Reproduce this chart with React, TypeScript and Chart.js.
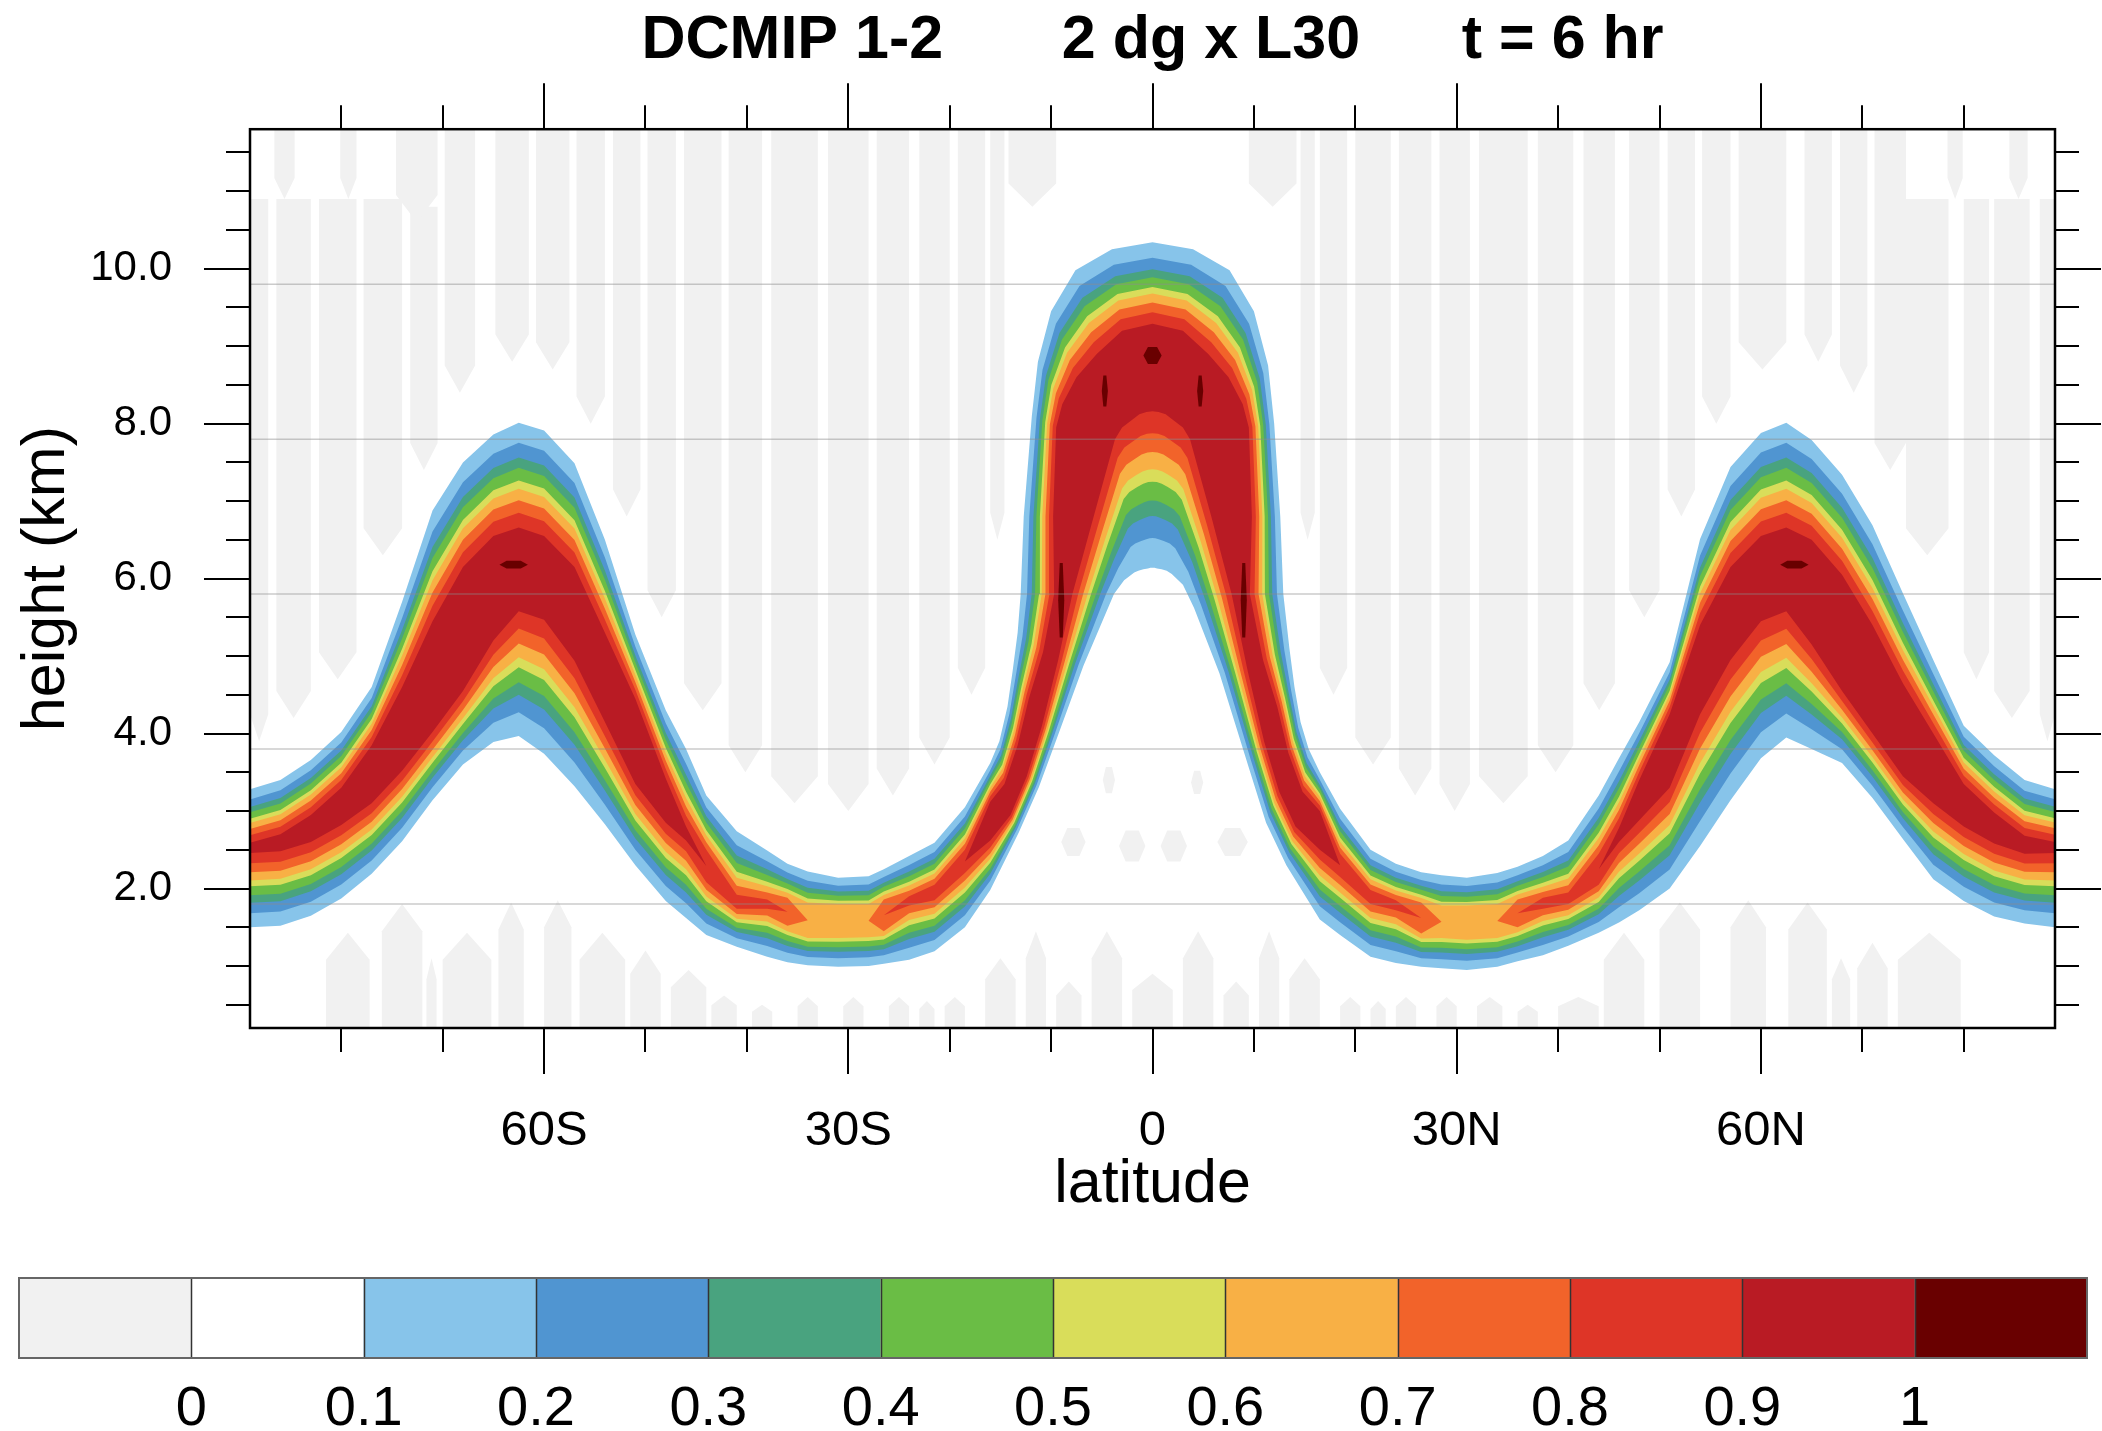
import React, { useEffect, useRef } from 'react';
import { Chart, registerables } from 'chart.js';

Chart.register(...registerables);

const FONT = "'Liberation Sans', Arial, Helvetica, sans-serif";

// ---------------- axes ----------------
const latRange = [-89, 89];
const heightRange = [0.2, 11.8];
const latMajorTicks = [-60, -30, 0, 30, 60];
const latTickLabels = ['60S', '30S', '0', '30N', '60N'];
const latMinorTicks = [-80, -70, -50, -40, -20, -10, 10, 20, 40, 50, 70, 80];
const heightMajorTicks = [2, 4, 6, 8, 10];
const heightTickLabels = ['2.0', '4.0', '6.0', '8.0', '10.0'];
const heightMinorTicks = [0.5, 1, 1.5, 2.5, 3, 3.5, 4.5, 5, 5.5, 6.5, 7, 7.5, 8.5, 9, 9.5, 10.5, 11, 11.5];
const titleText = 'DCMIP 1-2       2 dg x L30      t = 6 hr';
const xTitle = 'latitude';
const yTitle = 'height (km)';

// ---------------- colour scale ----------------
const contourLevels = [0.1, 0.2, 0.3, 0.4, 0.5, 0.6, 0.7, 0.8, 0.9];
const levelColors = ['#87C4EA', '#5095D1', '#49A37F', '#6ABD45', '#D9DD5A', '#F8B045', '#F2632A', '#DE3527', '#B91B24'];
const overshootColor = '#690000';
const negativeColor = '#F1F1F1';
const colorbarColors = [negativeColor, '#FFFFFF', ...levelColors, overshootColor];
const colorbarLabels = ['0', '0.1', '0.2', '0.3', '0.4', '0.5', '0.6', '0.7', '0.8', '0.9', '1'];
// relative position of each contour between the 0.1 edge and the innermost contour (read at 60S)
const levelSpacing = [0, 0.19, 0.33, 0.43, 0.55, 0.63, 0.74, 0.86, 1.0];

// ---------------- tracer band cross-sections (south -> north) ----------------
// O = outer 0.1 contour, Co/Ci = upper/lower edge of the innermost contour, I = inner 0.1 contour
const secOLat = [-89, -86, -83, -80, -77, -74, -71, -68, -65, -62.5, -60, -57, -54, -51, -48, -46, -44, -41, -38, -36, -34, -31, -28, -26.5, -24, -21.5, -18.5, -16,
  -15.1, -14.3, -13.8, -13.3, -13.0, -12.7, -11.9, -11.3, -10.0, -7.6, -4.0, 0,
  4.0, 7.6, 10.0, 11.4, 12.0, 12.6, 12.9, 13.5, 14.0, 14.6, 15.4,
  16.5, 18.5, 21.5, 24, 26.5, 28.5, 31, 34, 36, 38.5, 41, 44, 46, 48, 51, 54, 57, 60, 62.5, 65, 68, 71, 74, 77, 80, 83, 86, 89];
const secOZ = [3.28, 3.40, 3.66, 4.02, 4.60, 5.70, 6.88, 7.50, 7.86, 8.01, 7.91, 7.49, 6.50, 5.28, 4.30, 3.80, 3.20, 2.74, 2.49, 2.32, 2.22, 2.14, 2.16, 2.25, 2.42, 2.59, 3.05, 3.62,
  3.90, 4.35, 4.80, 5.30, 5.80, 6.80, 8.10, 8.80, 9.45, 9.98, 10.25, 10.34,
  10.25, 9.98, 9.45, 8.75, 8.00, 6.80, 5.80, 5.10, 4.60, 4.15, 3.80,
  3.50, 3.03, 2.50, 2.32, 2.21, 2.17, 2.14, 2.20, 2.28, 2.42, 2.62, 3.20, 3.68, 4.15, 4.92, 6.51, 7.44, 7.88, 8.01, 7.79, 7.34, 6.69, 5.81, 4.95, 4.10, 3.72, 3.40, 3.28];
const secCoLat = [-89, -86, -83, -80, -77, -74, -71, -68, -65, -62.5, -60, -57, -54, -51, -48, -46, -44, -41, -38, -36, -34, -31, -28, -26.5, -24, -21.5, -18.5, -16,
  -14.6, -13.3, -12.2, -10.8, -9.7, -9.8, -9.5, -8.9, -7.5, -5.5, -3.0, 0,
  3.0, 5.5, 7.5, 8.9, 9.5, 9.8, 9.6, 10.9, 12.3, 13.4, 14.8,
  16.5, 18.5, 21.5, 24, 26.5, 28.5, 31, 34, 36, 38.5, 41, 44, 46, 48, 51, 54, 57, 60, 62.5, 65, 68, 71, 74, 77, 80, 83, 86, 89];
const secCoZ = [2.59, 2.70, 2.95, 3.30, 3.85, 4.60, 5.45, 6.15, 6.55, 6.66, 6.55, 6.15, 5.30, 4.45, 3.42, 2.80, 2.50, 1.92, 1.86, 1.88, 1.82, 1.80, 1.80, 1.86, 1.90, 2.05, 2.50, 3.12,
  3.35, 3.85, 4.45, 5.05, 5.80, 6.80, 7.95, 8.25, 8.60, 8.90, 9.20, 9.29,
  9.20, 8.90, 8.60, 8.25, 7.95, 6.80, 5.80, 4.95, 4.35, 3.75, 3.25,
  3.00, 2.45, 1.98, 1.85, 1.82, 1.78, 1.78, 1.80, 1.86, 1.88, 1.95, 2.45, 2.78, 3.40, 4.25, 5.40, 6.15, 6.55, 6.66, 6.50, 6.05, 5.40, 4.65, 4.00, 3.35, 2.98, 2.68, 2.60];
const secCiLat = [-89, -86, -83, -80, -77, -74, -71, -68, -65, -62.5, -60, -57, -54, -51, -48, -46, -44, -41, -38, -36, -34, -31, -28, -26.5, -24, -21.5, -18.5, -16,
  -14.0, -12.4, -10.9, -9.3, -7.9, -5.8, -3.7, -3.0, -2.0, -1.3, -0.6, 0,
  0.6, 1.3, 2.0, 3.0, 3.7, 5.8, 7.8, 9.4, 11.0, 12.5, 14.1,
  16.5, 18.5, 21.5, 24, 26.5, 28.5, 31, 34, 36, 38.5, 41, 44, 46, 48, 51, 54, 57, 60, 62.5, 65, 68, 71, 74, 77, 80, 83, 86, 89];
const secCiZ = [2.46, 2.48, 2.60, 2.82, 3.10, 3.52, 4.02, 4.55, 5.20, 5.58, 5.47, 4.94, 4.15, 3.35, 2.85, 2.62, 2.08, 1.74, 1.74, 1.52, 1.36, 1.36, 1.37, 1.45, 1.78, 1.85, 2.20, 2.62,
  2.95, 3.45, 4.10, 4.95, 5.80, 6.80, 7.80, 7.95, 8.05, 8.12, 8.15, 8.16,
  8.15, 8.12, 8.05, 7.95, 7.80, 6.80, 5.80, 4.80, 3.90, 3.25, 2.80,
  2.50, 2.15, 1.80, 1.72, 1.42, 1.36, 1.34, 1.36, 1.50, 1.74, 1.80, 2.05, 2.60, 2.88, 3.30, 4.25, 4.95, 5.45, 5.58, 5.15, 4.55, 4.00, 3.45, 3.10, 2.80, 2.58, 2.45, 2.46];
const secILat = [-89, -86, -83, -80, -77, -74, -71, -68, -65, -62.5, -60, -57, -54, -51, -48, -46, -44, -41, -38, -36, -34, -31, -28, -26.5, -24, -21.5, -18.5, -16,
  -13.2, -11.2, -9.4, -6.8, -3.8, -2.8, -1.8, -1.4, -0.9, -0.45, -0.2, 0,
  0.2, 0.45, 0.9, 1.4, 1.9, 3.0, 4.1, 6.6, 9.4, 11.2, 13.2,
  16.5, 18.5, 21.5, 24, 26.5, 28.5, 31, 34, 36, 38.5, 41, 44, 46, 48, 51, 54, 57, 60, 62.5, 65, 68, 71, 74, 77, 80, 83, 86, 89];
const secIZ = [1.50, 1.52, 1.65, 1.87, 2.19, 2.61, 3.14, 3.60, 3.89, 3.97, 3.74, 3.32, 2.83, 2.30, 1.84, 1.62, 1.40, 1.25, 1.12, 1.05, 1.01, 0.99, 1.00, 1.03, 1.08, 1.19, 1.50, 1.98,
  2.72, 3.31, 3.95, 4.88, 5.80, 5.98, 6.08, 6.10, 6.12, 6.13, 6.14, 6.14,
  6.14, 6.13, 6.12, 6.10, 6.06, 5.92, 5.62, 4.78, 3.60, 2.85, 2.30,
  1.60, 1.40, 1.12, 1.04, 0.99, 0.97, 0.95, 0.99, 1.06, 1.14, 1.26, 1.43, 1.56, 1.72, 2.00, 2.55, 3.14, 3.68, 3.95, 3.80, 3.62, 3.17, 2.64, 2.12, 1.84, 1.64, 1.55, 1.50];
const secCoreLevel = [0.9, 0.9, 0.9, 0.9, 0.9, 0.9, 0.9, 0.9, 0.9, 0.9, 0.9, 0.9, 0.9, 0.9, 0.9, 0.9, 0.8, 0.8, 0.8, 0.7, 0.6, 0.6, 0.6, 0.7, 0.8, 0.8, 0.8, 0.9,
  0.9, 0.9, 0.9, 0.9, 0.9, 0.9, 0.9, 0.9, 0.9, 0.9, 0.9, 0.9,
  0.9, 0.9, 0.9, 0.9, 0.9, 0.9, 0.9, 0.9, 0.9, 0.9, 0.9,
  0.9, 0.8, 0.8, 0.8, 0.7, 0.6, 0.6, 0.6, 0.7, 0.8, 0.8, 0.8, 0.9, 0.9, 0.9, 0.9, 0.9, 0.9, 0.9, 0.9, 0.9, 0.9, 0.9, 0.9, 0.9, 0.9, 0.9, 0.9];

// small patches where the tracer exceeds 1 (lat, height, half-width in deg, half-height in km)
const overshootLat = [-63.0, 63.3, 0, -4.7, 4.7, -9.0, 9.0];
const overshootZ = [6.18, 6.18, 8.88, 8.42, 8.42, 5.72, 5.72];
const overshootHalfLat = [1.4, 1.4, 0.9, 0.3, 0.3, 0.3, 0.3];
const overshootHalfZ = [0.05, 0.05, 0.11, 0.2, 0.2, 0.48, 0.48];

// ---------------- negative (<0) background streaks ----------------
// streaks hanging from the top: [lat0, lat1, lowest height, top height]
const upperNegStrips = [
  [-89, -87.2, 3.9, 10.9], [-86.6, -84.6, 10.9, 11.8], [-86.4, -83.0, 4.2, 10.9], [-82.2, -78.5, 4.7, 10.9],
  [-80.1, -78.5, 10.9, 11.8], [-77.8, -74.0, 6.3, 10.9], [-74.6, -70.5, 10.6, 11.8], [-73.2, -70.5, 7.4, 10.8],
  [-69.8, -66.8, 8.4, 11.8], [-64.8, -61.5, 8.8, 11.8], [-60.8, -57.5, 8.7, 11.8], [-56.8, -54.0, 8.0, 11.8],
  [-53.2, -50.5, 6.8, 11.8], [-49.8, -47.0, 5.5, 11.8], [-46.2, -42.5, 4.3, 11.8], [-41.8, -38.5, 3.5, 11.8],
  [-37.6, -33.0, 3.1, 11.8], [-32.0, -28.0, 3.0, 11.8], [-27.2, -24.0, 3.2, 11.8], [-23.0, -20.0, 3.6, 11.8],
  [-19.2, -16.5, 4.5, 11.8], [-16.0, -14.6, 6.5, 11.8], [-14.2, -9.5, 10.8, 11.8],
  [9.5, 14.2, 10.8, 11.8], [14.6, 16.0, 6.5, 11.8], [16.5, 19.2, 4.5, 11.8], [20.0, 23.5, 3.6, 11.8],
  [24.3, 27.5, 3.2, 11.8], [28.3, 31.3, 3.0, 11.8], [32.2, 37.0, 3.1, 11.8], [38.0, 41.5, 3.5, 11.8],
  [42.5, 45.6, 4.3, 11.8], [47.0, 50.0, 5.5, 11.8], [50.8, 53.5, 6.8, 11.8], [54.2, 57.0, 8.0, 11.8],
  [57.8, 62.5, 8.7, 11.8], [64.3, 67.0, 8.8, 11.8], [67.8, 70.5, 8.4, 11.8], [71.2, 74.3, 7.4, 11.8],
  [74.3, 78.5, 6.3, 10.9], [78.4, 79.9, 10.9, 11.8], [80.0, 82.5, 4.7, 10.9], [83.0, 86.5, 4.2, 10.9],
  [84.5, 86.3, 10.9, 11.8], [87.5, 89, 3.9, 10.9],
];
// streaks rising from the ground: [lat0, lat1, bottom height, highest height]
const lowerNegStrips = [
  [-81.5, -77.2, 0.2, 1.43], [-76.0, -72.0, 0.2, 1.8], [-71.6, -70.6, 0.2, 1.1], [-70.0, -65.2, 0.2, 1.43],
  [-64.5, -62.0, 0.2, 1.82], [-60.0, -57.3, 0.2, 1.85], [-56.5, -52.0, 0.2, 1.43], [-51.5, -48.5, 0.2, 1.2],
  [-47.5, -44.0, 0.2, 0.95], [-43.5, -41.0, 0.2, 0.62], [-39.5, -37.5, 0.2, 0.5], [-35.0, -33.0, 0.2, 0.6],
  [-30.5, -28.5, 0.2, 0.6], [-26.0, -24.0, 0.2, 0.6], [-23.0, -21.5, 0.2, 0.55], [-20.5, -18.5, 0.2, 0.6],
  [-16.5, -13.5, 0.2, 1.1], [-12.5, -10.5, 0.2, 1.45], [-9.5, -7.0, 0.2, 0.8], [-6.0, -3.0, 0.2, 1.45],
  [-2.0, 2.0, 0.2, 0.9], [3.0, 6.0, 0.2, 1.45], [7.0, 9.5, 0.2, 0.8], [10.5, 12.5, 0.2, 1.45], [13.5, 16.5, 0.2, 1.1],
  [18.5, 20.5, 0.2, 0.6], [21.5, 23.0, 0.2, 0.55], [24.0, 26.0, 0.2, 0.6], [28.0, 30.0, 0.2, 0.6],
  [32.0, 34.5, 0.2, 0.6], [36.0, 38.0, 0.2, 0.5], [40.0, 44.0, 0.2, 0.6], [44.5, 48.5, 0.2, 1.43],
  [50.0, 54.0, 0.2, 1.82], [57.0, 60.5, 0.2, 1.85], [62.7, 66.5, 0.2, 1.82], [67.0, 68.8, 0.2, 1.1],
  [69.5, 72.5, 0.2, 1.3], [73.5, 79.7, 0.2, 1.43],
];
// isolated small negative cells under the equatorial dome: [lat, height, half-width, half-height]
const negCells = [
  [-7.8, 2.6, 1.2, 0.18], [-4.3, 3.4, 0.6, 0.17], [-2.0, 2.55, 1.3, 0.2],
  [2.1, 2.55, 1.3, 0.2], [4.4, 3.37, 0.6, 0.15], [7.9, 2.6, 1.5, 0.18],
];

// faint horizontal raster seams visible in the picture
const seamHeights = [1.8, 3.8, 5.8, 7.8, 9.8];

// ---------------- geometry helpers ----------------
const lerp = (a: number, b: number, f: number) => a + (b - a) * f;

function levelPolygon(k: number) {
  const top: { x: number; y: number }[] = [];
  const bottom: { x: number; y: number }[] = [];
  for (let i = 0; i < secOLat.length; i++) {
    const core = Math.round(secCoreLevel[i] * 10) - 1;
    if (k <= core) {
      const f = levelSpacing[k] / levelSpacing[core];
      top.push({ x: lerp(secOLat[i], secCoLat[i], f), y: lerp(secOZ[i], secCoZ[i], f) });
      bottom.push({ x: lerp(secILat[i], secCiLat[i], f), y: lerp(secIZ[i], secCiZ[i], f) });
    } else {
      const mx = (secCoLat[i] + secCiLat[i]) / 2;
      const my = (secCoZ[i] + secCiZ[i]) / 2;
      top.push({ x: mx, y: my });
      bottom.push({ x: mx, y: my });
    }
  }
  return top.concat(bottom.reverse());
}

// a streak with a tapered free end (down for hanging streaks, up for rising ones)
function streak(r: number[], hanging: boolean) {
  const [l0, l1, zLo, zHi] = r;
  const taper = Math.min(0.35, (zHi - zLo) * 0.3);
  const m = (l0 + l1) / 2;
  if (hanging) {
    return [{ x: l0, y: zHi }, { x: l1, y: zHi }, { x: l1, y: zLo + taper }, { x: m, y: zLo }, { x: l0, y: zLo + taper }];
  }
  return [{ x: l0, y: zLo }, { x: l1, y: zLo }, { x: l1, y: zHi - taper }, { x: m, y: zHi }, { x: l0, y: zHi - taper }];
}

function hexagon(lat: number, z: number, hl: number, hz: number) {
  return [
    { x: lat - hl, y: z }, { x: lat - hl / 2, y: z + hz }, { x: lat + hl / 2, y: z + hz },
    { x: lat + hl, y: z }, { x: lat + hl / 2, y: z - hz }, { x: lat - hl / 2, y: z - hz },
  ];
}

function shape(data: { x: number; y: number }[], color: string, order: number) {
  return {
    data,
    fill: 'shape',
    backgroundColor: color,
    borderColor: 'rgba(0,0,0,0)',
    borderWidth: 0,
    pointRadius: 0,
    pointHoverRadius: 0,
    tension: 0,
    order,
  };
}

function buildDatasets() {
  const ds: any[] = [];
  upperNegStrips.forEach((r) => ds.push(shape(streak(r, true), negativeColor, 300)));
  lowerNegStrips.forEach((r) => ds.push(shape(streak(r, false), negativeColor, 300)));
  negCells.forEach((c) => ds.push(shape(hexagon(c[0], c[1], c[2], c[3]), negativeColor, 300)));
  contourLevels.forEach((_, k) => ds.push(shape(levelPolygon(k), levelColors[k], 200 - k)));
  overshootLat.forEach((lat, i) => {
    ds.push(shape(hexagon(lat, overshootZ[i], overshootHalfLat[i], overshootHalfZ[i]), overshootColor, 50));
  });
  seamHeights.forEach((h) => ds.push({
    data: [{ x: latRange[0], y: h }, { x: latRange[1], y: h }],
    borderColor: 'rgba(140,140,140,0.45)', borderWidth: 1.5, pointRadius: 0, fill: false, order: 10,
  }));
  return ds;
}

const decorPlugin = {
  id: 'decor',
  afterDraw(chart: any) {
    const { ctx, chartArea: a, scales } = chart;
    const xs = scales.x;
    const ys = scales.y;
    ctx.save();
    ctx.strokeStyle = '#000';
    ctx.lineWidth = 2;
    ctx.beginPath();
    const major = 46, minor = 24;
    latMajorTicks.forEach((v) => {
      const p = Math.round(xs.getPixelForValue(v));
      ctx.moveTo(p, a.bottom); ctx.lineTo(p, a.bottom + major);
      ctx.moveTo(p, a.top); ctx.lineTo(p, a.top - major);
    });
    latMinorTicks.forEach((v) => {
      const p = Math.round(xs.getPixelForValue(v));
      ctx.moveTo(p, a.bottom); ctx.lineTo(p, a.bottom + minor);
      ctx.moveTo(p, a.top); ctx.lineTo(p, a.top - minor);
    });
    heightMajorTicks.forEach((v) => {
      const p = Math.round(ys.getPixelForValue(v));
      ctx.moveTo(a.left, p); ctx.lineTo(a.left - major, p);
      ctx.moveTo(a.right, p); ctx.lineTo(a.right + major, p);
    });
    heightMinorTicks.forEach((v) => {
      const p = Math.round(ys.getPixelForValue(v));
      ctx.moveTo(a.left, p); ctx.lineTo(a.left - minor, p);
      ctx.moveTo(a.right, p); ctx.lineTo(a.right + minor, p);
    });
    ctx.stroke();
    ctx.lineWidth = 2.5;
    ctx.strokeRect(a.left, a.top, a.right - a.left, a.bottom - a.top);

    // colour bar
    const cbL = 19, cbR = 2087, cbT = 1278, cbB = 1358;
    const w = (cbR - cbL) / colorbarColors.length;
    colorbarColors.forEach((c, i) => {
      ctx.fillStyle = c;
      ctx.fillRect(cbL + i * w, cbT, w, cbB - cbT);
    });
    ctx.strokeStyle = '#333';
    ctx.lineWidth = 1.5;
    ctx.beginPath();
    for (let i = 1; i < colorbarColors.length; i++) {
      const x = Math.round(cbL + i * w) + 0.5;
      ctx.moveTo(x, cbT); ctx.lineTo(x, cbB);
    }
    ctx.stroke();
    ctx.strokeStyle = '#666';
    ctx.lineWidth = 2;
    ctx.strokeRect(cbL, cbT, cbR - cbL, cbB - cbT);
    ctx.fillStyle = '#000';
    ctx.font = `56px ${FONT}`;
    ctx.textAlign = 'center';
    ctx.textBaseline = 'alphabetic';
    colorbarLabels.forEach((t, i) => ctx.fillText(t, cbL + (i + 1) * w, 1425));
    ctx.restore();
  },
};

export default function App() {
  const ref = useRef<HTMLCanvasElement>(null);
  useEffect(() => {
    document.body.style.margin = '0';
    const chart = new Chart(ref.current as HTMLCanvasElement, {
      type: 'line',
      data: { datasets: buildDatasets() },
      options: {
        animation: false,
        responsive: false,
        events: [],
        devicePixelRatio: 1,
        layout: { padding: { left: 0, right: 47, top: 0, bottom: 0 } },
        plugins: {
          legend: { display: false },
          tooltip: { enabled: false },
          title: {
            display: true,
            text: titleText,
            fullSize: false,
            color: '#000',
            font: { family: FONT, size: 61, weight: 'bold', lineHeight: 1.2 },
            padding: { top: 5, bottom: 51 },
          },
        },
        scales: {
          x: {
            type: 'linear',
            position: 'bottom',
            min: latRange[0],
            max: latRange[1],
            grid: { display: false, drawTicks: false },
            border: { display: false },
            afterBuildTicks: (s: any) => { s.ticks = latMajorTicks.map((v) => ({ value: v })); },
            afterFit: (s: any) => { s.height = 403; },
            ticks: {
              autoSkip: false, maxRotation: 0, minRotation: 0, padding: 74, color: '#000',
              font: { family: FONT, size: 49 },
              callback: (v: any) => latTickLabels[latMajorTicks.indexOf(Number(v))] ?? '',
            },
            title: { display: true, text: xTitle, color: '#000', font: { family: FONT, size: 61 }, padding: { top: 0, bottom: 209 } },
          },
          y: {
            type: 'linear',
            position: 'left',
            min: heightRange[0],
            max: heightRange[1],
            grid: { display: false, drawTicks: false },
            border: { display: false },
            afterBuildTicks: (s: any) => { s.ticks = heightMajorTicks.map((v) => ({ value: v })); },
            afterFit: (s: any) => { s.width = 250; },
            ticks: {
              autoSkip: false, padding: 78, color: '#000',
              font: { family: FONT, size: 42 },
              callback: (v: any) => heightTickLabels[heightMajorTicks.indexOf(Number(v))] ?? '',
            },
            title: { display: true, text: yTitle, color: '#000', font: { family: FONT, size: 61 }, padding: { top: 11, bottom: 0 } },
          },
        },
      } as any,
      plugins: [decorPlugin],
    });
    return () => chart.destroy();
  }, []);
  return (
    <div style={{ position: 'fixed', left: 0, top: 0, width: 2102, height: 1431, background: '#fff' }}>
      <canvas ref={ref} width={2102} height={1431} style={{ width: 2102, height: 1431, display: 'block' }} />
    </div>
  );
}
